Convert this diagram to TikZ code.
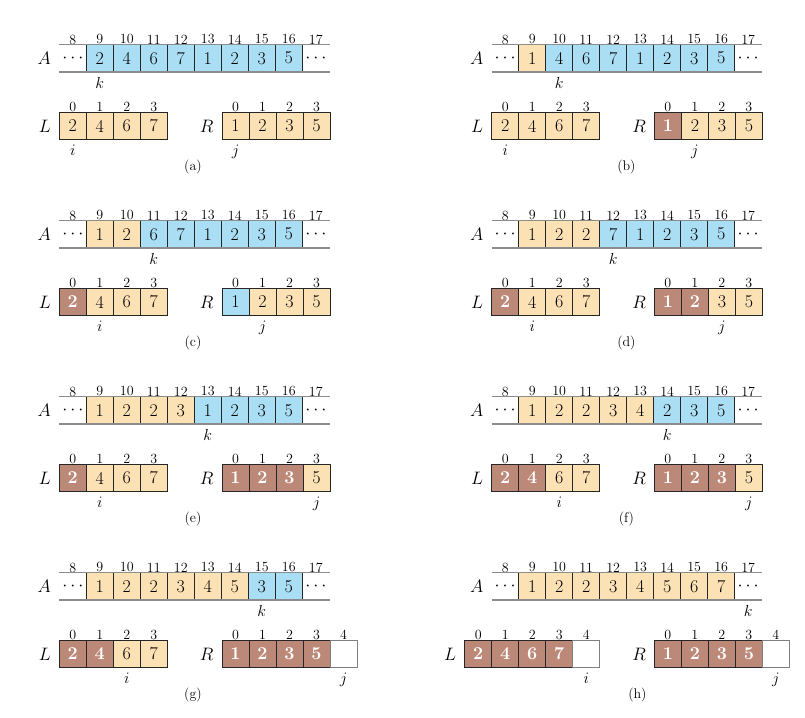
\RequirePackage{fix-cm}
\documentclass[tikz,border=0pt]{standalone}
\usetikzlibrary{positioning}
\definecolor{sorted}{HTML}{FCE1B5}
\definecolor{unsorted}{HTML}{AADEF4}
\definecolor{copied}{HTML}{BC8978}
\tikzstyle{cell} = [rectangle, minimum width=27pt, minimum height=27pt, inner sep=0pt, draw=black!85, line width=0.7pt, label distance=3pt, font=\fontsize{18}{18}\selectfont]
\tikzstyle{srt} = [fill=sorted]
\tikzstyle{uns} = [fill=unsorted]
\tikzstyle{cpd} = [fill=copied, text=white, font=\fontsize{18}{18}\selectfont\bfseries]
\tikzstyle{emp} = [fill=white, draw=gray]
\tikzstyle{ellip} = [rectangle, minimum width=27pt, minimum height=27pt, inner sep=0pt, label distance=3pt, font=\fontsize{18}{18}\selectfont]
\tikzstyle{idx} = [inner sep=0pt, font=\fontsize{14}{14}\selectfont]
\tikzstyle{arr} = [inner sep=0pt, font=\fontsize{18}{18}\selectfont]
\tikzstyle{ptr} = [inner sep=0pt, font=\fontsize{16}{16}\selectfont]
\tikzstyle{capt} = [inner sep=0pt, font=\fontsize{14}{14}\selectfont]
\tikzstyle{rail} = [draw=gray!90, line width=1.5pt]

\begin{document}
\begin{tikzpicture}[x=1pt, y=-1pt]
    \useasboundingbox (0,0) rectangle (805,717);
    % the parts every panel shares
    \foreach \p/\px/\py in {a/0/0, b/432.4/0, c/0/176, d/432.4/176, e/0/352, f/432.4/352, g/0/528, h/432.4/528} {
        \begin{scope}[shift={(\px,\py)}]
            \node (\p A8) [ellip, label={[idx]above:8}] at (72.8,58.2) {$\cdots$};
            \node (\p A17) [ellip, label={[idx]above:17}] at (315.8,58.2) {$\cdots$};
            \node (\p A) [arr, left=8pt of \p A8] {$A$};
        \end{scope}
    }

    % (a)
    \begin{scope}[shift={(0,0)}]
        \foreach \v/\s [count=\n from 9] in {2/uns,4/uns,6/uns,7/uns,1/uns,2/uns,3/uns,5/uns}
            \node (aA\n) [cell, \s, label={[idx]above:\n}] at ({27*\n-143.2},58.2) {\v};
        \foreach \v/\s [count=\n from 0] in {2/srt,4/srt,6/srt,7/srt}
            \node (aL\n) [cell, \s, label={[idx]above:\n}] at ({72.8+27*\n},126) {\v};
        \foreach \v/\s [count=\n from 0] in {1/srt,2/srt,3/srt,5/srt}
            \node (aR\n) [cell, \s, label={[idx]above:\n}] at ({235.5+27*\n},126) {\v};
        \node (aL) [arr, left=8pt of aL0] {$L$};
        \node (aR) [arr, left=8pt of aR0] {$R$};
        \node (ak) [ptr, below=5pt of aA9] {$k$};
        \node (ai) [ptr, below=5pt of aL0] {$i$};
        \node (aj) [ptr, below=5pt of aR0] {$j$};
        \node (acap) [capt] at (193,167) {(a)};
    \end{scope}

    % (b)
    \begin{scope}[shift={(432.4,0)}]
        \foreach \v/\s [count=\n from 9] in {1/srt,4/uns,6/uns,7/uns,1/uns,2/uns,3/uns,5/uns}
            \node (bA\n) [cell, \s, label={[idx]above:\n}] at ({27*\n-143.2},58.2) {\v};
        \foreach \v/\s [count=\n from 0] in {2/srt,4/srt,6/srt,7/srt}
            \node (bL\n) [cell, \s, label={[idx]above:\n}] at ({72.8+27*\n},126) {\v};
        \foreach \v/\s [count=\n from 0] in {1/cpd,2/srt,3/srt,5/srt}
            \node (bR\n) [cell, \s, label={[idx]above:\n}] at ({235.5+27*\n},126) {\v};
        \node (bL) [arr, left=8pt of bL0] {$L$};
        \node (bR) [arr, left=8pt of bR0] {$R$};
        \node (bk) [ptr, below=5pt of bA10] {$k$};
        \node (bi) [ptr, below=5pt of bL0] {$i$};
        \node (bj) [ptr, below=5pt of bR1] {$j$};
        \node (bcap) [capt] at (194,167) {(b)};
    \end{scope}

    % (c)
    \begin{scope}[shift={(0,176)}]
        \foreach \v/\s [count=\n from 9] in {1/srt,2/srt,6/uns,7/uns,1/uns,2/uns,3/uns,5/uns}
            \node (cA\n) [cell, \s, label={[idx]above:\n}] at ({27*\n-143.2},58.2) {\v};
        \foreach \v/\s [count=\n from 0] in {2/cpd,4/srt,6/srt,7/srt}
            \node (cL\n) [cell, \s, label={[idx]above:\n}] at ({72.8+27*\n},126) {\v};
        \foreach \v/\s [count=\n from 0] in {1/uns,2/srt,3/srt,5/srt}
            \node (cR\n) [cell, \s, label={[idx]above:\n}] at ({235.5+27*\n},126) {\v};
        \node (cL) [arr, left=8pt of cL0] {$L$};
        \node (cR) [arr, left=8pt of cR0] {$R$};
        \node (ck) [ptr, below=5pt of cA11] {$k$};
        \node (ci) [ptr, below=5pt of cL1] {$i$};
        \node (cj) [ptr, below=5pt of cR1] {$j$};
        \node (ccap) [capt] at (193,167) {(c)};
    \end{scope}

    % (d)
    \begin{scope}[shift={(432.4,176)}]
        \foreach \v/\s [count=\n from 9] in {1/srt,2/srt,2/srt,7/uns,1/uns,2/uns,3/uns,5/uns}
            \node (dA\n) [cell, \s, label={[idx]above:\n}] at ({27*\n-143.2},58.2) {\v};
        \foreach \v/\s [count=\n from 0] in {2/cpd,4/srt,6/srt,7/srt}
            \node (dL\n) [cell, \s, label={[idx]above:\n}] at ({72.8+27*\n},126) {\v};
        \foreach \v/\s [count=\n from 0] in {1/cpd,2/cpd,3/srt,5/srt}
            \node (dR\n) [cell, \s, label={[idx]above:\n}] at ({235.5+27*\n},126) {\v};
        \node (dL) [arr, left=8pt of dL0] {$L$};
        \node (dR) [arr, left=8pt of dR0] {$R$};
        \node (dk) [ptr, below=5pt of dA12] {$k$};
        \node (di) [ptr, below=5pt of dL1] {$i$};
        \node (dj) [ptr, below=5pt of dR2] {$j$};
        \node (dcap) [capt] at (194,167) {(d)};
    \end{scope}

    % (e)
    \begin{scope}[shift={(0,352)}]
        \foreach \v/\s [count=\n from 9] in {1/srt,2/srt,2/srt,3/srt,1/uns,2/uns,3/uns,5/uns}
            \node (eA\n) [cell, \s, label={[idx]above:\n}] at ({27*\n-143.2},58.2) {\v};
        \foreach \v/\s [count=\n from 0] in {2/cpd,4/srt,6/srt,7/srt}
            \node (eL\n) [cell, \s, label={[idx]above:\n}] at ({72.8+27*\n},126) {\v};
        \foreach \v/\s [count=\n from 0] in {1/cpd,2/cpd,3/cpd,5/srt}
            \node (eR\n) [cell, \s, label={[idx]above:\n}] at ({235.5+27*\n},126) {\v};
        \node (eL) [arr, left=8pt of eL0] {$L$};
        \node (eR) [arr, left=8pt of eR0] {$R$};
        \node (ek) [ptr, below=5pt of eA13] {$k$};
        \node (ei) [ptr, below=5pt of eL1] {$i$};
        \node (ej) [ptr, below=5pt of eR3] {$j$};
        \node (ecap) [capt] at (193,167) {(e)};
    \end{scope}

    % (f)
    \begin{scope}[shift={(432.4,352)}]
        \foreach \v/\s [count=\n from 9] in {1/srt,2/srt,2/srt,3/srt,4/srt,2/uns,3/uns,5/uns}
            \node (fA\n) [cell, \s, label={[idx]above:\n}] at ({27*\n-143.2},58.2) {\v};
        \foreach \v/\s [count=\n from 0] in {2/cpd,4/cpd,6/srt,7/srt}
            \node (fL\n) [cell, \s, label={[idx]above:\n}] at ({72.8+27*\n},126) {\v};
        \foreach \v/\s [count=\n from 0] in {1/cpd,2/cpd,3/cpd,5/srt}
            \node (fR\n) [cell, \s, label={[idx]above:\n}] at ({235.5+27*\n},126) {\v};
        \node (fL) [arr, left=8pt of fL0] {$L$};
        \node (fR) [arr, left=8pt of fR0] {$R$};
        \node (fk) [ptr, below=5pt of fA14] {$k$};
        \node (fi) [ptr, below=5pt of fL2] {$i$};
        \node (fj) [ptr, below=5pt of fR3] {$j$};
        \node (fcap) [capt] at (194,167) {(f)};
    \end{scope}

    % (g)
    \begin{scope}[shift={(0,528)}]
        \foreach \v/\s [count=\n from 9] in {1/srt,2/srt,2/srt,3/srt,4/srt,5/srt,3/uns,5/uns}
            \node (gA\n) [cell, \s, label={[idx]above:\n}] at ({27*\n-143.2},58.2) {\v};
        \foreach \v/\s [count=\n from 0] in {2/cpd,4/cpd,6/srt,7/srt}
            \node (gL\n) [cell, \s, label={[idx]above:\n}] at ({72.8+27*\n},126) {\v};
        \foreach \v/\s [count=\n from 0] in {1/cpd,2/cpd,3/cpd,5/cpd,{}/emp}
            \node (gR\n) [cell, \s, label={[idx]above:\n}] at ({235.5+27*\n},126) {\v};
        \node (gL) [arr, left=8pt of gL0] {$L$};
        \node (gR) [arr, left=8pt of gR0] {$R$};
        \node (gk) [ptr, below=5pt of gA15] {$k$};
        \node (gi) [ptr, below=5pt of gL2] {$i$};
        \node (gj) [ptr, below=5pt of gR4] {$j$};
        \node (gcap) [capt] at (193,167) {(g)};
    \end{scope}

    % (h)
    \begin{scope}[shift={(432.4,528)}]
        \foreach \v/\s [count=\n from 9] in {1/srt,2/srt,2/srt,3/srt,4/srt,5/srt,6/srt,7/srt}
            \node (hA\n) [cell, \s, label={[idx]above:\n}] at ({27*\n-143.2},58.2) {\v};
        \foreach \v/\s [count=\n from 0] in {2/cpd,4/cpd,6/cpd,7/cpd,{}/emp}
            \node (hL\n) [cell, \s, label={[idx]above:\n}] at ({45.8+27*\n},126) {\v};
        \foreach \v/\s [count=\n from 0] in {1/cpd,2/cpd,3/cpd,5/cpd,{}/emp}
            \node (hR\n) [cell, \s, label={[idx]above:\n}] at ({235.5+27*\n},126) {\v};
        \node (hL) [arr, left=8pt of hL0] {$L$};
        \node (hR) [arr, left=8pt of hR0] {$R$};
        \node (hk) [ptr, below=5pt of hA17] {$k$};
        \node (hi) [ptr, below=5pt of hL4] {$i$};
        \node (hj) [ptr, below=5pt of hR4] {$j$};
        \node (hcap) [capt] at (205,167) {(h)};
    \end{scope}

    % rails along each A
    \foreach \p in {a,b,c,d,e,f,g,h} {
        \draw [rail] (\p A8.north west)--(\p A17.north east);
        \draw [rail] (\p A8.south west)--(\p A17.south east);
    }
\end{tikzpicture}
\end{document}
